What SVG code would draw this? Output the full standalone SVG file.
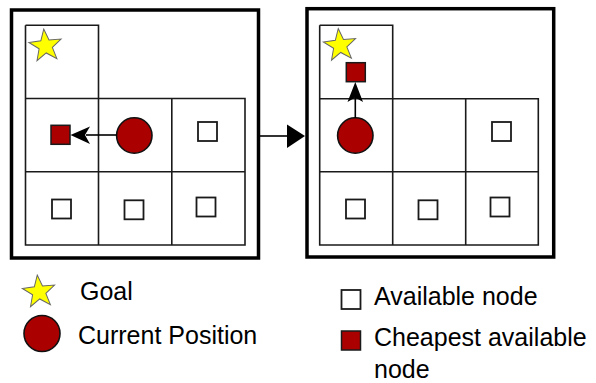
<svg xmlns="http://www.w3.org/2000/svg" width="596" height="383" viewBox="0 0 596 383">
<style>
.panel{fill:#fff;stroke:#000;stroke-width:3.5}
.grid{fill:none;stroke:#1a1a1a;stroke-width:1.6}
.avail{fill:#fff;stroke:#1a1a1a;stroke-width:1.8}
.cheap{fill:#aa0000;stroke:#1a1a1a;stroke-width:1.5}
.pos{fill:#aa0000;stroke:#111;stroke-width:1.6}
.star{fill:#ffff00;stroke:#666;stroke-width:1}
.conn{stroke:#000;stroke-width:1.6;fill:none}
.lbl{font-family:"Liberation Sans",Arial,sans-serif;font-size:25px;fill:#000}
</style>
<defs>
<path id="starShape" d="M0,-17 L4.11,-5.66 L16.17,-5.25 L6.66,2.16 L9.99,13.75 L0,7 L-9.99,13.75 L-6.66,2.16 L-16.17,-5.25 L-4.11,-5.66 Z"/>
</defs>

<g id="panel-left">
<rect class="panel" x="11.5" y="10" width="247" height="248"/>
<path class="grid" d="M25.5,25.3 H98.5 V245 M25.5,25.3 V245 H245 V98.5 H25.5 M25.5,171.8 H245 M171.8,98.5 V245"/>
<use href="#starShape" class="star" transform="translate(45.5,46) rotate(-6)"/>
<rect class="cheap" x="51" y="125.3" width="19" height="19"/>
<circle class="pos" cx="134.3" cy="135.5" r="17.7"/>
<rect class="avail" x="198" y="122" width="19" height="19"/>
<rect class="avail" x="52" y="199.5" width="19" height="19"/>
<rect class="avail" x="124.5" y="200.3" width="19" height="19"/>
<rect class="avail" x="196.5" y="197.5" width="19" height="19"/>
</g>

<g id="panel-right">
<rect class="panel" x="307" y="8.7" width="246.7" height="248.3"/>
<path class="grid" d="M319.7,25.3 H392.7 V245 M319.7,25.3 V245 H538.3 V98.7 H319.7 M319.7,171.7 H538.3 M465.7,98.7 V245"/>
<use href="#starShape" class="star" transform="translate(340,45.5) rotate(-6)"/>
<rect class="cheap" x="346.3" y="62.7" width="19" height="19"/>
<circle class="pos" cx="355.3" cy="135.5" r="17.7"/>
<rect class="avail" x="492" y="122" width="19" height="19"/>
<rect class="avail" x="346" y="199.5" width="19" height="19"/>
<rect class="avail" x="418.5" y="200.3" width="19" height="19"/>
<rect class="avail" x="490.5" y="197.5" width="19" height="19"/>
</g>

<g id="connectors">
<line class="conn" x1="116.6" y1="135" x2="86" y2="135"/>
<path d="M70.5,135 L90,126.5 L85,135 L90,144 Z" fill="#000"/>
<line class="conn" x1="260" y1="136" x2="288" y2="136"/>
<path d="M305,136 L287,124.5 L287,148 Z" fill="#000"/>
<line class="conn" x1="355.3" y1="117.8" x2="355.3" y2="96"/>
<path d="M355.3,82 L347.5,102 L355.3,97.5 L363,102 Z" fill="#000"/>
</g>

<g id="legend-goal">
<use href="#starShape" class="star" transform="translate(39,292) rotate(-6)"/>
<text class="lbl" x="80" y="300">Goal</text>
</g>
<g id="legend-position">
<circle class="pos" cx="42" cy="333.5" r="18"/>
<text class="lbl" x="78" y="344">Current Position</text>
</g>
<g id="legend-available">
<rect class="avail" x="341.5" y="290" width="19" height="19"/>
<text class="lbl" x="374" y="305">Available node</text>
</g>
<g id="legend-cheapest">
<rect class="cheap" x="341.5" y="331" width="19" height="19"/>
<text class="lbl" x="374" y="346">Cheapest available</text>
<text class="lbl" x="374" y="378">node</text>
</g>
</svg>
